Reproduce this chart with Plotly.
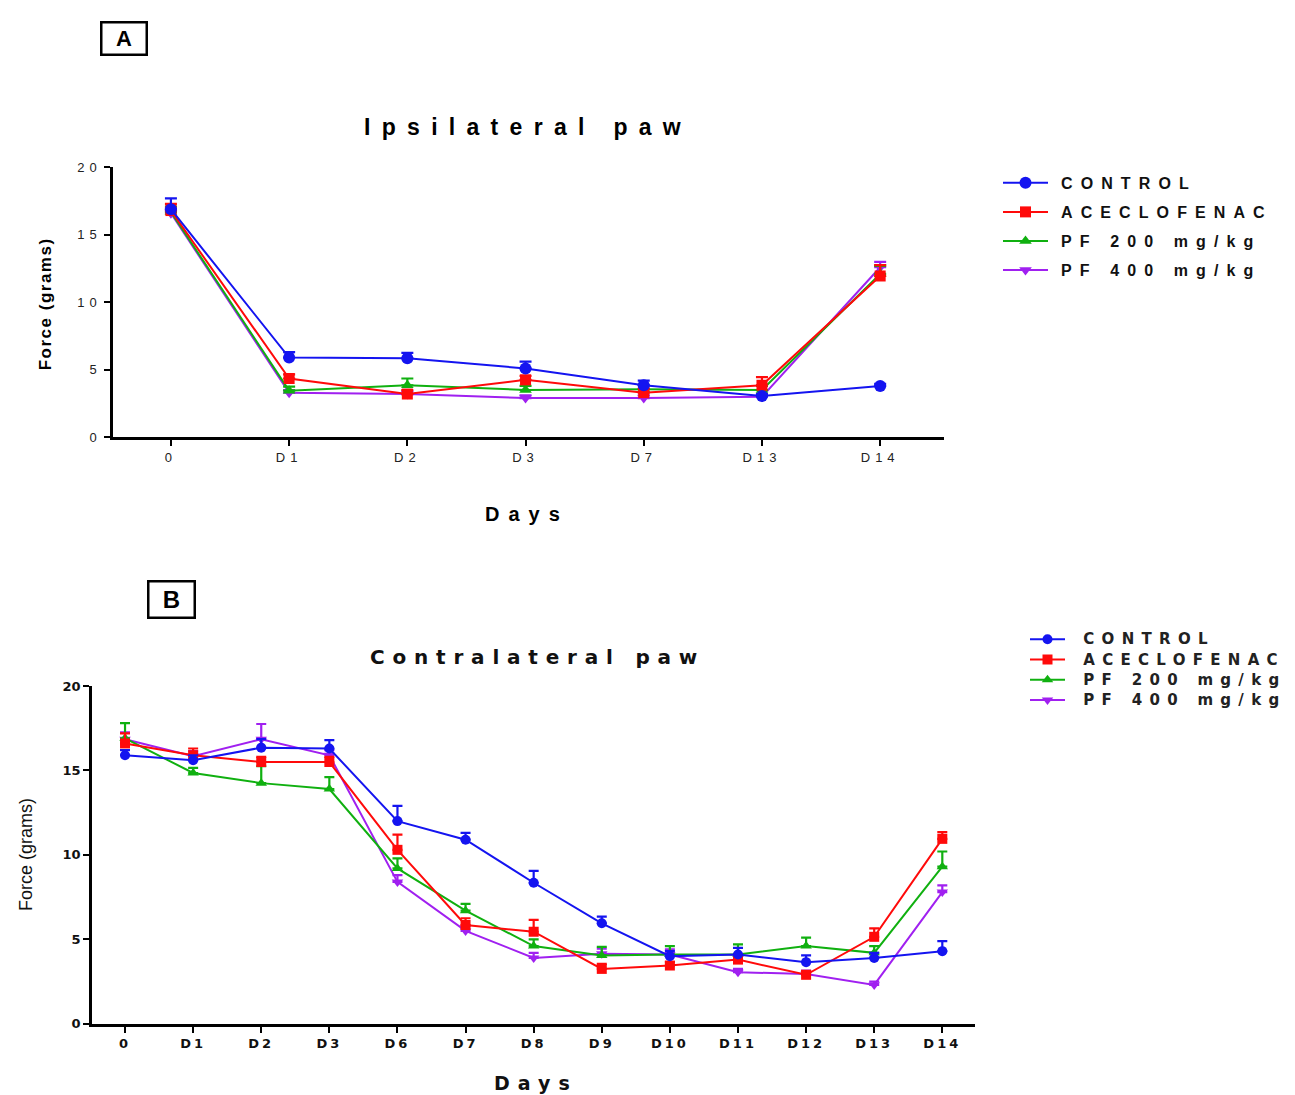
import plotly.graph_objects as go

# ---------------- data ----------------
days_a = ["0", "D1", "D2", "D3", "D7", "D13", "D14"]
days_b = ["0", "D1", "D2", "D3", "D6", "D7", "D8", "D9", "D10", "D11", "D12", "D13", "D14"]
groups = ["CONTROL", "ACECLOFENAC", "PF 200 mg/kg", "PF 400 mg/kg"]
y_ticks = [0, 5, 10, 15, 20]
y_tick_labels = ["0", "5", "10", "15", "20"]

ipsi_control = [16.9, 5.9, 5.85, 5.1, 3.85, 3.05, 3.8]
ipsi_control_err = [0.8, 0.4, 0.4, 0.5, 0.35, 0.15, 0.15]
ipsi_aceclofenac = [16.8, 4.35, 3.2, 4.25, 3.3, 3.85, 11.95]
ipsi_aceclofenac_err = [0.5, 0.3, 0.3, 0.3, 0.3, 0.6, 0.8]
ipsi_pf200 = [16.7, 3.45, 3.85, 3.5, 3.55, 3.5, 12.1]
ipsi_pf200_err = [0.4, 0.3, 0.5, 0.3, 0.3, 0.3, 0.6]
ipsi_pf400 = [16.6, 3.3, 3.2, 2.9, 2.9, 3.0, 12.6]
ipsi_pf400_err = [0.4, 0.2, 0.2, 0.2, 0.2, 0.2, 0.4]

contra_control = [15.9, 15.6, 16.35, 16.3, 12.0, 10.9, 8.35, 5.95, 4.0, 4.1, 3.65, 3.9, 4.3]
contra_control_err = [0.3, 0.3, 0.5, 0.5, 0.9, 0.4, 0.7, 0.4, 0.3, 0.4, 0.4, 0.3, 0.6]
contra_aceclofenac = [16.6, 15.9, 15.5, 15.5, 10.3, 5.85, 5.45, 3.25, 3.45, 3.8, 2.9, 5.15, 10.95]
contra_aceclofenac_err = [0.6, 0.4, 0.3, 0.3, 0.9, 0.4, 0.7, 0.3, 0.2, 0.3, 0.2, 0.5, 0.4]
contra_pf200 = [16.9, 14.85, 14.25, 13.9, 9.2, 6.7, 4.6, 4.05, 4.1, 4.1, 4.6, 4.2, 9.3]
contra_pf200_err = [0.9, 0.3, 1.0, 0.7, 0.6, 0.4, 0.4, 0.5, 0.5, 0.6, 0.5, 0.4, 0.9]
contra_pf400 = [16.85, 15.85, 16.85, 15.9, 8.4, 5.5, 3.9, 4.15, 4.1, 3.05, 2.95, 2.3, 7.8]
contra_pf400_err = [0.4, 0.3, 0.9, 0.3, 0.4, 0.3, 0.3, 0.3, 0.3, 0.2, 0.2, 0.2, 0.4]

# ---------------- styles ----------------
colors = ["#1414F0", "#FF0A0A", "#10B010", "#A020F0"]
symbols = ["circle", "square", "triangle-up", "triangle-down"]
FA = "Liberation Sans, Arial, sans-serif"
FB = "DejaVu Sans, Verdana, sans-serif"
W, H = 1295, 1095


def sp(text, ls, size=None):
    st = f"letter-spacing:{ls}px"
    if size:
        st += f";font-size:{size}px"
    return f"<span style='{st}'>{text}</span>"


def px(x):
    return x / W


def py(y):
    # small vertical correction observed in the rendering pipeline
    return 1 - ((y - 6.5) / 0.987) / H


fig = go.Figure()

ipsi = [(ipsi_control, ipsi_control_err), (ipsi_aceclofenac, ipsi_aceclofenac_err),
        (ipsi_pf200, ipsi_pf200_err), (ipsi_pf400, ipsi_pf400_err)]
contra = [(contra_control, contra_control_err), (contra_aceclofenac, contra_aceclofenac_err),
          (contra_pf200, contra_pf200_err), (contra_pf400, contra_pf400_err)]

for i in reversed(range(4)):
    vals, err = ipsi[i]
    fig.add_trace(go.Scatter(
        x=days_a, y=vals, mode="lines+markers",
        name="\u2002<b>" + sp(groups[i], 8.1) + "</b>",
        legend="legend", legendgroup=f"a{i}", legendrank=i + 1,
        line=dict(color=colors[i], width=2),
        marker=dict(symbol=symbols[i], size=12 if i == 0 else 11, color=colors[i]),
        error_y=dict(type="data", array=err, arrayminus=[0] * len(err),
                     color=colors[i], thickness=2.2, width=6),
        xaxis="x", yaxis="y", cliponaxis=False))

for i in reversed(range(4)):
    vals, err = contra[i]
    fig.add_trace(go.Scatter(
        x=days_b, y=vals, mode="lines+markers",
        name="\u2003<b>" + sp(groups[i], 7.3, 15) + "</b>",
        legend="legend2", legendgroup=f"b{i}", legendrank=i + 1,
        line=dict(color=colors[i], width=2),
        marker=dict(symbol=symbols[i], size=10, color=colors[i]),
        error_y=dict(type="data", array=err, arrayminus=[0] * len(err),
                     color=colors[i], thickness=2.2, width=5),
        xaxis="x2", yaxis="y2", cliponaxis=False))

axis_common = dict(showgrid=False, zeroline=False, showline=True, linecolor="black",
                   linewidth=2.5, ticks="outside", tickcolor="black", tickwidth=2,
                   ticklen=6)

fig.update_layout(
    width=W, height=H, autosize=False,
    margin=dict(l=0, r=0, t=0, b=0),
    paper_bgcolor="white", plot_bgcolor="white",
    xaxis=dict(axis_common, domain=[px(113), px(944)], anchor="y",
               type="category", categoryorder="array", categoryarray=days_a,
               range=[-0.49, 6.54], tickmode="array", tickvals=days_a,
               ticktext=[sp(t, 5) for t in days_a],
               tickfont=dict(family=FA, size=13, color="#222")),
    yaxis=dict(axis_common, domain=[py(437), py(167)], anchor="x",
               range=[0, 20], tickmode="array", tickvals=y_ticks,
               ticktext=[sp(t, 5) for t in y_tick_labels],
               tickfont=dict(family=FA, size=13, color="#222")),
    xaxis2=dict(axis_common, domain=[px(92), px(975)], anchor="y2",
                type="category", categoryorder="array", categoryarray=days_b,
                range=[-0.485, 12.48], tickmode="array", tickvals=days_b,
                ticktext=["<b>" + sp(t, 3) + "</b>" for t in days_b],
                tickfont=dict(family=FB, size=13, color="#111")),
    yaxis2=dict(axis_common, domain=[py(1024), py(686)], anchor="x2",
                range=[0, 20], tickmode="array", tickvals=y_ticks,
                ticktext=["<b>" + t + "</b>" for t in y_tick_labels],
                tickfont=dict(family=FB, size=13, color="#111")),
    legend=dict(x=px(998), y=py(165.5), xanchor="left", yanchor="top",
                font=dict(family=FA, size=16, color="#111"),
                tracegroupgap=5.3, itemwidth=45, bgcolor="rgba(0,0,0,0)"),
    legend2=dict(x=px(1025), y=py(624), xanchor="left", yanchor="top",
                 font=dict(family=FB, size=13.3, color="#222"),
                 tracegroupgap=0, itemwidth=35, bgcolor="rgba(0,0,0,0)"),
    showlegend=True,
)


def note(text, x, y, font, **kw):
    d = dict(text=text, x=px(x), y=py(y), xref="paper", yref="paper",
             xanchor="center", yanchor="middle", showarrow=False, font=font)
    d.update(kw)
    return d


ann = [
    note("<b>A</b>", 123.5, 38.5, dict(family=FA, size=22, color="black"),
         bordercolor="black", borderwidth=2.5, width=41, height=28),
    note("<b>B</b>", 171, 599, dict(family=FA, size=24, color="black"),
         bordercolor="black", borderwidth=2.5, width=42, height=32),
    note("<b>" + sp("Ipsilateral paw", 11.3) + "</b>", 528, 127,
         dict(family=FA, size=23, color="black")),
    note("<b>" + sp("Contralateral paw", 7.8) + "</b>", 537, 657,
         dict(family=FB, size=20, color="#111")),
    note("<b>" + sp("Days", 9) + "</b>", 527, 514,
         dict(family=FA, size=20, color="black")),
    note("<b>" + sp("Days", 8) + "</b>", 536, 1083,
         dict(family=FB, size=19, color="#111")),
    note("<b>" + sp("Force (grams)", 1.5) + "</b>", 45, 304,
         dict(family=FA, size=17, color="black"), textangle=-90),
    note("Force (grams)", 26, 855,
         dict(family=FA, size=18, color="#111"), textangle=-90),
]
fig.update_layout(annotations=ann)

fig.write_html("out.html")
